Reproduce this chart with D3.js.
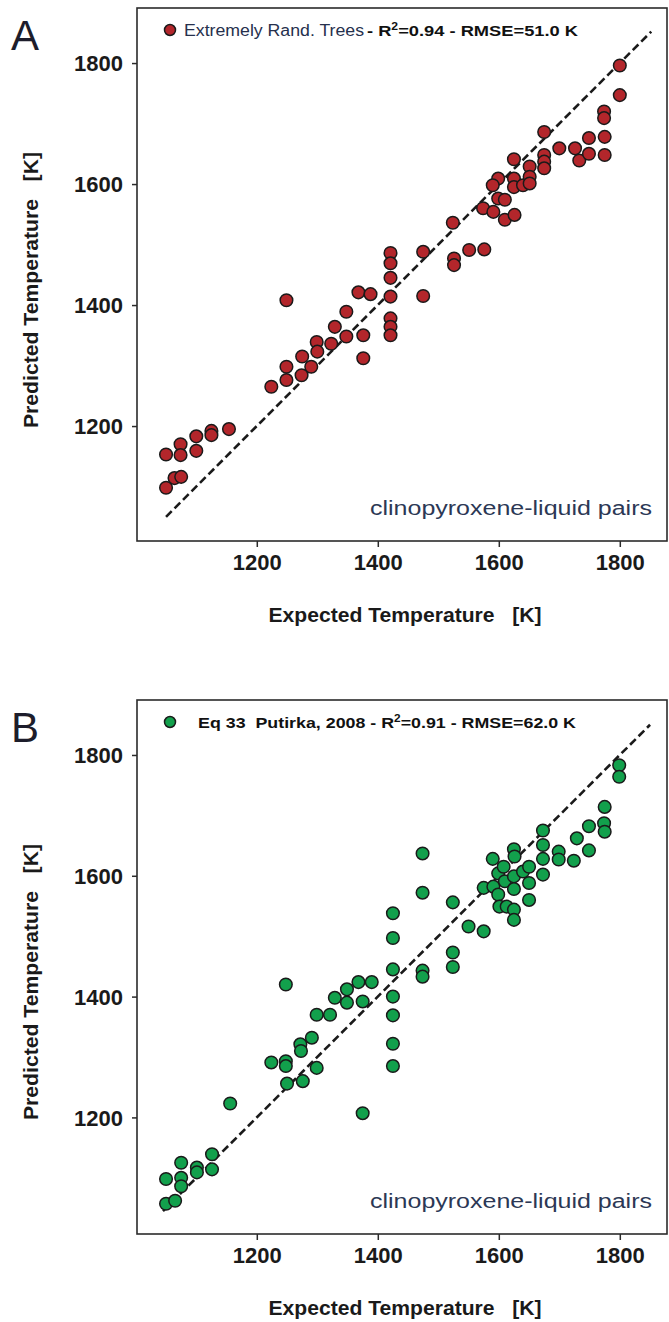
<!DOCTYPE html>
<html>
<head>
<meta charset="utf-8">
<script src="https://cdn.jsdelivr.net/npm/d3@7"></script>
<style>
  html, body { margin: 0; padding: 0; background: #fff; }
  svg text { white-space: pre; }
</style>
</head>
<body>
<div class="container"></div>
<script>
// tick values shared by both panels
const ticks = [1200, 1400, 1600, 1800];

// Panel A - Extremely Randomized Trees
const ertExpected = [
  1050, 1050, 1064, 1075, 1074, 1074, 1100, 1100, 1125, 1125, 1154, 1224,
  1249, 1249, 1249, 1275, 1274, 1290, 1299, 1300, 1323, 1329, 1348, 1348,
  1368, 1388, 1376, 1376, 1421, 1421, 1421, 1421, 1421, 1421, 1421, 1475,
  1475, 1526, 1526, 1551, 1576, 1524, 1574, 1591, 1610, 1626, 1599, 1610,
  1599, 1590, 1625, 1625, 1640, 1651, 1651, 1651, 1625, 1675, 1675, 1675,
  1675, 1700, 1726, 1733, 1749, 1775, 1749, 1775, 1774, 1774, 1800, 1800
];
const ertPredicted = [
  1153, 1098, 1114, 1116, 1170, 1152, 1159, 1183, 1192, 1185, 1195, 1265,
  1408, 1298, 1276, 1315, 1284, 1298, 1339, 1323, 1336, 1364, 1389, 1348,
  1421, 1418, 1350, 1312, 1486, 1469, 1445, 1414, 1378, 1364, 1350, 1415,
  1488, 1477, 1466, 1491, 1492, 1536, 1560, 1554, 1541, 1549, 1576, 1574,
  1609, 1598, 1609, 1595, 1598, 1629, 1612, 1601, 1641, 1686, 1648, 1637,
  1626, 1659, 1659, 1639, 1676, 1678, 1650, 1648, 1720, 1709, 1796, 1747
];

// Panel B - Eq 33 Putirka (2008)
const putExpected = [
  1050, 1065, 1050, 1075, 1075, 1075, 1101, 1101, 1126, 1126, 1156, 1224,
  1248, 1248, 1248, 1250, 1276, 1272, 1273, 1291, 1299, 1299, 1321, 1329,
  1349, 1349, 1368, 1390, 1375, 1375, 1425, 1425, 1425, 1425, 1425, 1425,
  1425, 1474, 1474, 1474, 1474, 1524, 1524, 1524, 1550, 1575, 1575, 1591,
  1590, 1599, 1599, 1601, 1608, 1610, 1613, 1625, 1626, 1625, 1625, 1625,
  1625, 1640, 1650, 1650, 1650, 1673, 1673, 1673, 1673, 1699, 1699, 1724,
  1729, 1749, 1749, 1774, 1775, 1775, 1799, 1799
];
const putPredicted = [
  1057, 1062, 1098, 1125, 1100, 1086, 1117, 1109, 1114, 1139, 1223, 1291,
  1293, 1285, 1420, 1256, 1260, 1321, 1310, 1332, 1282, 1370, 1370, 1398,
  1412, 1390, 1424, 1424, 1392, 1207, 1538, 1497, 1445, 1400, 1369, 1322,
  1285, 1637, 1572, 1443, 1433, 1556, 1473, 1449, 1516, 1508, 1580, 1582,
  1628, 1604, 1569, 1549, 1615, 1591, 1549, 1644, 1632, 1599, 1578, 1544,
  1527, 1607, 1615, 1588, 1560, 1675, 1651, 1628, 1602, 1640, 1627, 1625,
  1662, 1682, 1642, 1687, 1673, 1714, 1783, 1764
];

const width = 669;
const height = 1322;
const font = "'Liberation Sans', Arial, sans-serif";

const svg = d3.select(".container")
  .append("svg")
  .attr("width", width)
  .attr("height", height);

// x scale is the same for both panels
const x = d3.scaleLinear().domain([1002, 1878]).range([137, 667]);

function drawPanel(p) {
  const y = d3.scaleLinear().domain(p.yDomain).range(p.yRange);
  const g = svg.append("g");
  const data = p.expected.map((e, i) => [e, p.predicted[i]]);
  const top = p.yRange[1];
  const bottom = p.yRange[0];

  // panel letter
  g.append("text")
    .attr("x", 11)
    .attr("y", top + 42)
    .attr("font-family", font)
    .attr("font-size", 42)
    .attr("fill", "#1d1d2b")
    .text(p.letter);

  // 1:1 dashed line
  g.append("line")
    .attr("x1", x(p.line[0]))
    .attr("y1", y(p.line[0]))
    .attr("x2", x(p.line[1]))
    .attr("y2", y(p.line[1]))
    .attr("stroke", "#1a1a1a")
    .attr("stroke-width", 2.6)
    .attr("stroke-dasharray", "8,4");

  // points
  g.selectAll(".pt")
    .data(data)
    .enter()
    .append("circle")
    .attr("class", "pt")
    .attr("cx", (d) => x(d[0]))
    .attr("cy", (d) => y(d[1]))
    .attr("r", 6.3)
    .attr("fill", p.color)
    .attr("stroke", "#1a1a1a")
    .attr("stroke-width", 1.5);

  // axes
  const fmt = d3.format("d");
  const xAxis = g.append("g")
    .attr("transform", `translate(0,${bottom})`)
    .call(d3.axisBottom(x).tickValues(ticks).tickFormat(fmt).tickSize(6).tickPadding(9));
  const yAxis = g.append("g")
    .attr("transform", `translate(${x.range()[0]},0)`)
    .call(d3.axisLeft(y).tickValues(ticks).tickFormat(fmt).tickSize(5).tickPadding(9));
  [xAxis, yAxis].forEach((a) => {
    a.select(".domain").remove();
    a.selectAll(".tick line").attr("stroke", "#2b2b2b").attr("stroke-width", 1.5);
    a.selectAll(".tick text")
      .attr("font-family", font)
      .attr("font-weight", "bold")
      .attr("font-size", 22)
      .attr("fill", "#1a1a1a");
  });
  xAxis.selectAll(".tick text").attr("dy", null).attr("y", 29);
  yAxis.selectAll(".tick text").attr("dy", "0.36em").attr("x", -14);

  // frame
  g.append("rect")
    .attr("x", x.range()[0])
    .attr("y", top)
    .attr("width", x.range()[1] - x.range()[0])
    .attr("height", bottom - top)
    .attr("fill", "none")
    .attr("stroke", "#2b2b2b")
    .attr("stroke-width", 1.6);

  // axis titles
  g.append("text")
    .attr("x", 405)
    .attr("y", bottom + 81)
    .attr("text-anchor", "middle")
    .attr("font-family", font)
    .attr("font-weight", "bold")
    .attr("font-size", 20)
    .attr("fill", "#1a1a1a")
    .attr("textLength", 273)
    .attr("lengthAdjust", "spacingAndGlyphs")
    .text("Expected Temperature   [K]");

  g.append("text")
    .attr("transform", `translate(38,${p.yTitle}) rotate(-90)`)
    .attr("text-anchor", "middle")
    .attr("font-family", font)
    .attr("font-weight", "bold")
    .attr("font-size", 20)
    .attr("fill", "#1a1a1a")
    .attr("textLength", 276)
    .attr("lengthAdjust", "spacingAndGlyphs")
    .text("Predicted Temperature   [K]");

  // dataset note
  g.append("text")
    .attr("x", 652)
    .attr("y", bottom - 26)
    .attr("text-anchor", "end")
    .attr("font-family", font)
    .attr("font-size", 20)
    .attr("fill", "#2c3855")
    .attr("textLength", 282)
    .attr("lengthAdjust", "spacingAndGlyphs")
    .text("clinopyroxene-liquid pairs");

  // legend
  g.append("circle")
    .attr("cx", 170)
    .attr("cy", top + 22)
    .attr("r", 5.5)
    .attr("fill", p.color)
    .attr("stroke", "#1a1a1a")
    .attr("stroke-width", 1.5);

  let lx = p.legendX;
  if (p.name) {
    g.append("text")
      .attr("x", lx)
      .attr("y", top + 28)
      .attr("font-family", font)
      .attr("font-size", 16)
      .attr("fill", "#26304d")
      .attr("textLength", p.nameLen)
      .attr("lengthAdjust", "spacingAndGlyphs")
      .text(p.name);
    lx += p.nameLen + 3;
  }
  const stat = g.append("text")
    .attr("x", lx)
    .attr("y", top + 28)
    .attr("font-family", font)
    .attr("font-weight", "bold")
    .attr("font-size", 15)
    .attr("fill", "#111")
    .attr("textLength", p.statLen)
    .attr("lengthAdjust", "spacingAndGlyphs");
  stat.append("tspan").text(p.statPre + "R");
  stat.append("tspan").attr("dy", -6).attr("font-size", 10).text("2");
  stat.append("tspan").attr("dy", 6).text(p.statPost);
}

drawPanel({
  letter: "A",
  expected: ertExpected,
  predicted: ertPredicted,
  color: "#b3262b",
  yDomain: [1010, 1891],
  yRange: [541, 8],
  line: [1050, 1852],
  yTitle: 290,
  legendX: 184,
  name: "Extremely Rand. Trees",
  nameLen: 180,
  statPre: "- ",
  statPost: "=0.94 - RMSE=51.0 K",
  statLen: 211
});

drawPanel({
  letter: "B",
  expected: putExpected,
  predicted: putPredicted,
  color: "#12a04c",
  yDomain: [1007, 1891],
  yRange: [1234, 700],
  line: [1045, 1850],
  yTitle: 982,
  legendX: 198,
  name: null,
  statPre: "Eq 33  Putirka, 2008 - ",
  statPost: "=0.91 - RMSE=62.0 K",
  statLen: 378
});
</script>
</body>
</html>
